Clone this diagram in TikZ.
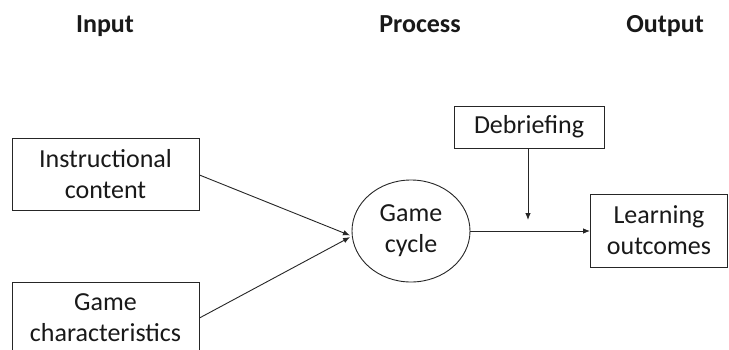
\documentclass[tikz,border=0pt]{standalone}
\usepackage{fontspec}
\setmainfont{Carlito}
\usetikzlibrary{arrows.meta,shapes.geometric}
\begin{document}
\begin{tikzpicture}[x=1pt,y=-1pt,
  every node/.style={font=\fontsize{26}{31}\selectfont, text=black!90, align=center, inner sep=0pt},
  box/.style={draw=black!85, line width=0.9pt, rectangle},
  hdr/.style={font=\fontsize{26}{31}\selectfont\bfseries, anchor=base},
  link/.style={draw=black!85, line width=0.9pt, -{Latex[length=7pt,width=5.5pt]}}]
\useasboundingbox (0,0) rectangle (729,349);
\clip (0,0) rectangle (729,349);
\fill[white] (0,0) rectangle (729,349);
\node[hdr] (hin) at (105,32) {Input};
\node[hdr] (hpr) at (420,32) {Process};
\node[hdr] (hout) at (665,32) {Output};
\node[box, minimum width=187pt, minimum height=72pt] (ic) at (105.5,174) {Instructional\\content};
\node[box, minimum width=187pt, minimum height=72pt] (gc) at (105.5,318) {Game\\characteristics};
\node[box, ellipse, minimum width=118pt, minimum height=102pt] (cycle) at (411,231) {Game\\cycle};
\node[box, minimum width=150pt, minimum height=42pt] (deb) at (529,127) {Debriefing};
\node[box, minimum width=137pt, minimum height=73pt] (lo) at (659,230.5) {Learning\\outcomes};
\coordinate (dj) at (528,220);
\draw[link, shorten >=2pt] (ic.east |- 0,175) -- (cycle.185);
\draw[link, shorten >=2pt] (gc.east |- 0,318) -- (cycle.185);
\draw[link] (cycle.east) -- (lo.west |- cycle.east);
\draw[link] (deb.south -| dj) -- (dj);
\end{tikzpicture}
\end{document}
